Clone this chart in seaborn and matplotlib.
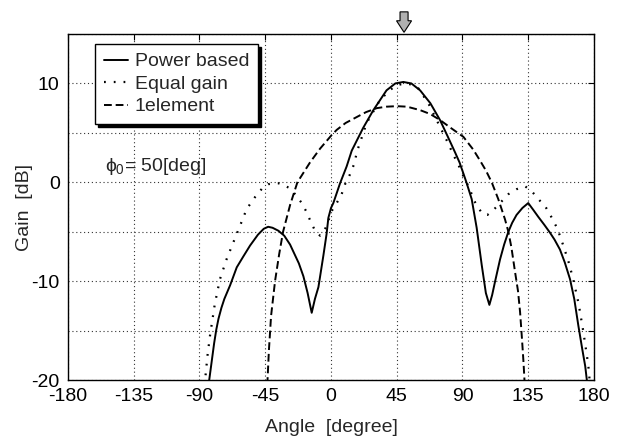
import matplotlib
matplotlib.use("Agg")
import matplotlib.pyplot as plt
import seaborn as sns
import pandas as pd
from matplotlib.patches import FancyArrow

# ---- data ----
power_x = [-83.8, -80, -78.5, -77, -75, -73, -69, -64.5, -60, -55.4, -50, -46, -43, -40, -36,
           -32, -28, -25.8, -22, -18.9, -16, -13.2, -11, -8.6, -5.2, -3, -1.8, 0, 1.6, 6.2,
           10.7, 14.2, 22, 29, 38, 44, 49.5, 55, 61, 68, 74.6, 80, 85, 88, 90.6, 92.9, 96.3,
           99.7, 103.2, 106, 108.4, 110.3, 112.2, 115.7, 118.5, 121.4, 124, 127, 131, 135,
           138.5, 141.9, 146, 149.9, 153, 156.7, 160, 163.6, 166.5, 169.3, 172, 174, 175.5]
power_y = [-20.5, -16.3, -14.9, -13.8, -12.7, -11.8, -10.4, -8.6, -7.5, -6.4, -5.3, -4.7, -4.5,
           -4.6, -4.9, -5.4, -6.3, -7.0, -8.2, -9.5, -11.2, -13.2, -11.8, -10.6, -7.4, -5.2,
           -3.6, -2.6, -2.1, -0.1, 1.6, 3.2, 5.5, 7.3, 9.3, 10.0, 10.15, 10.0, 9.3, 8.0, 6.3,
           4.6, 3.0, 2.0, 0.9, -0.1, -1.7, -4.6, -8.4, -11.2, -12.4, -11.4, -10.1, -7.8, -6.3,
           -5.0, -4.1, -3.3, -2.6, -2.1, -2.8, -3.5, -4.3, -5.1, -5.8, -6.8, -8.1, -9.8, -11.8,
           -14.5, -16.9, -18.6, -20.5]

equal_x = [-86.5, -84.5, -82.8, -79.5, -76, -71.5, -66.9, -62, -57.7, -52, -47, -43, -40, -36,
           -33.7, -31, -28, -24.6, -20, -17.1, -14.4, -11.4, -7.5, -5, -3, 0.5, 3.9, 7.3, 9.6,
           13, 15.7, 18, 24.4, 33.5, 40, 45, 50, 55, 59.8, 66.6, 72.3, 80, 83.7, 87.1, 91,
           95.1, 97.4, 100.8, 104.2, 107, 109.9, 115.7, 121.4, 127, 132.8, 137.4, 141.9, 146.5,
           149.9, 155, 159, 162.5, 165.8, 169.5, 172.7, 176.1, 177.3]
equal_y = [-20.5, -17.5, -15.5, -12.3, -9.8, -7.8, -6.1, -4.3, -2.7, -1.5, -0.6, -0.2, -0.1,
           -0.1, -0.2, -0.4, -0.6, -1.2, -2.1, -2.9, -3.8, -4.75, -5.4, -5.0, -4.4, -2.9, -2.1,
           -1.2, -0.2, 0.8, 1.8, 3.2, 6.0, 8.3, 9.3, 9.8, 10.0, 9.9, 9.5, 8.0, 6.3, 4.0, 2.8,
           1.8, 0.5, -0.7, -1.7, -2.6, -3.25, -3.3, -3.0, -2.1, -1.2, -0.7, -0.4, -0.9, -1.7,
           -2.4, -3.25, -4.7, -6.4, -8.0, -9.8, -12.3, -15.1, -18.5, -20.5]

elem_x = [-43.6, -42.5, -41, -38.3, -35.5, -32.8, -28, -23, -14.4, -7.5, 0, 3.9, 10, 17.6, 24,
          31.3, 38, 45, 52, 61, 68, 74.6, 82, 90.6, 97.4, 102, 106, 110, 114.5, 119.1, 121.4,
          123.5, 125.9, 128, 129.4, 130.7, 131.8, 132.6]
elem_y = [-20.5, -17, -13.5, -10, -7.3, -5, -2.3, 0, 2.0, 3.4, 4.7, 5.3, 6.0, 6.6, 7.1, 7.5,
          7.65, 7.7, 7.65, 7.3, 6.9, 6.3, 5.5, 4.6, 3.3, 2.2, 1.2, 0, -1.7, -3.75, -5.0, -6.6,
          -9.0, -11.0, -13.1, -15.8, -18.3, -20.5]

labels = ["Power based", "Equal gain", "1element"]
x_ticks = [-180, -135, -90, -45, 0, 45, 90, 135, 180]
y_ticks = [-20, -15, -10, -5, 0, 5, 10, 15]
y_tick_labels = ["-20", "", "-10", "", "0", "", "10", ""]
phi0 = 50

# ---- style ----
sns.set_style("white")
plt.rcParams["font.family"] = ["Liberation Sans", "DejaVu Sans"]
plt.rcParams["mathtext.fontset"] = "custom"
plt.rcParams["mathtext.rm"] = "Liberation Sans"
plt.rcParams["mathtext.it"] = "Liberation Sans"
plt.rcParams["font.size"] = 14

fig = plt.figure(figsize=(6.21, 4.36), dpi=100)
ax = fig.add_axes([0.1095, 0.1284, 0.847, 0.7936])

df_p = pd.DataFrame({"x": power_x, "y": power_y})
df_e = pd.DataFrame({"x": equal_x, "y": equal_y})
df_1 = pd.DataFrame({"x": elem_x, "y": elem_y})

sns.lineplot(data=df_p, x="x", y="y", ax=ax, color="black", lw=1.4, sort=False,
             estimator=None, label=labels[0], linestyle="-")
sns.lineplot(data=df_e, x="x", y="y", ax=ax, color="black", lw=1.6, sort=False,
             estimator=None, label=labels[1], linestyle=(0, (0.8, 3.6)))
sns.lineplot(data=df_1, x="x", y="y", ax=ax, color="black", lw=1.4, sort=False,
             estimator=None, label=labels[2], linestyle=(0, (4, 2)))

ax.set_xlim(-180, 180)
ax.set_ylim(-20, 15)
ax.set_xticks(x_ticks)
ax.set_xticklabels([str(t) for t in x_ticks])
ax.set_yticks(y_ticks)
ax.set_yticklabels(y_tick_labels)
ax.tick_params(direction="in", length=4, width=0.8, labelsize=14, pad=6,
               top=True, right=True, colors="black")
ax.grid(True, color="0.2", linestyle=(0, (1, 2.5)), linewidth=0.8)
for s in ax.spines.values():
    s.set_color("black")
    s.set_linewidth(1.0)

ax.set_xlabel("Angle  [degree]", fontsize=14, labelpad=10)
ax.set_ylabel("Gain  [dB]", fontsize=14, labelpad=-1)

leg = ax.legend(loc="upper left", bbox_to_anchor=(0.0513, 0.971), borderaxespad=0,
                fancybox=False, edgecolor="black", framealpha=1, fontsize=14,
                handlelength=1.25, handletextpad=0.35, borderpad=0.45, labelspacing=0.25,
                shadow={"facecolor": "black", "edgecolor": "black", "alpha": 1})
leg.get_frame().set_linewidth(1.0)

ax.text(-154.7, 1.6, r"$\phi_0$= " + f"{phi0}[deg]", fontsize=14, va="center", ha="left")

arrow = FancyArrow(phi0, 17.24, 0, -2.07, width=5.5, head_width=10.3, head_length=1.17,
                   length_includes_head=True, facecolor="#b0b0b0", edgecolor="black",
                   linewidth=0.8, clip_on=False, zorder=5)
ax.add_patch(arrow)

fig.savefig("out.png", dpi=100)
